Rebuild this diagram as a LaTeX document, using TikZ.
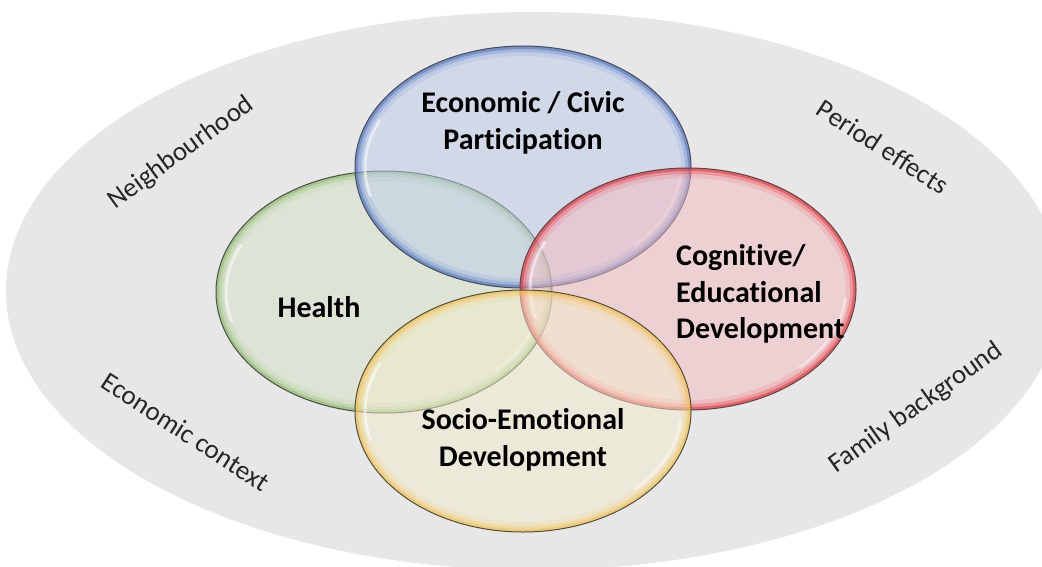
\documentclass[tikz,border=0pt]{standalone}
\usepackage{fontspec}
\setmainfont{Carlito}[Ligatures=NoCommon]
\definecolor{bggrey}{RGB}{231,231,231}
\definecolor{bluefill}{RGB}{189,205,235}
\definecolor{greenfill}{RGB}{213,226,199}
\definecolor{redfill}{RGB}{243,187,191}
\definecolor{yellowfill}{RGB}{243,236,205}
\definecolor{bluerim}{RGB}{60,100,190}
\definecolor{greenrim}{RGB}{130,180,90}
\definecolor{redrim}{RGB}{235,25,35}
\definecolor{yellowrim}{RGB}{245,185,50}
\tikzset{
  venntext/.style={font=\bfseries\fontsize{30}{36.5}\selectfont, align=center, text=black, inner sep=0pt},
  ctxtext/.style={font=\fontsize{27}{30}\selectfont, text=black!85, inner sep=0pt},
  ellrad/.style={x radius=168, y radius=121}
}
\newcommand\glossyell[4]{%
  \fill[#3, fill opacity=0.5] (#1,#2) ellipse [ellrad];
  \begin{scope}
    \clip (#1,#2) ellipse [ellrad];
    \draw[#4, line width=20, opacity=0.10] (#1,#2) ellipse [ellrad];
    \draw[#4, line width=12, opacity=0.22] (#1,#2) ellipse [ellrad];
    \draw[#4, line width=6, opacity=0.45] (#1,#2) ellipse [ellrad];
    \draw[white, line width=3, opacity=0.55, line cap=round]
      ([shift={(#1,#2)}]165:158 and 111) arc[start angle=165, end angle=205, x radius=158, y radius=111];
    \draw[white, line width=3, opacity=0.45, line cap=round]
      ([shift={(#1,#2)}]5:158 and 111) arc[start angle=5, end angle=45, x radius=158, y radius=111];
  \end{scope}
  \draw[black!70, line width=1] (#1,#2) ellipse [ellrad];
}
\begin{document}
\begin{tikzpicture}[x=1pt,y=-1pt]
  \useasboundingbox (0,0) rectangle (1042,566);
  \clip (0,0) rectangle (1042,566);
  \fill[white] (0,0) rectangle (1042,566);
  \fill[bggrey] (534,291) ellipse [x radius=528, y radius=279];

  \glossyell{384}{292}{greenfill}{greenrim}
  \glossyell{523}{167}{bluefill}{bluerim}
  \glossyell{688}{289}{redfill}{redrim}
  \glossyell{523}{411}{yellowfill}{yellowrim}

  \node[venntext] (econ) at (523,123) {Economic / Civic\\Participation};
  \node[venntext] (health) at (319,307) {Health};
  \node[venntext, align=left, anchor=west] (cog) at (676,294) {Cognitive/\\Educational\\Development};
  \node[venntext] (socio) at (523,440) {Socio-Emotional\\Development};

  \node[ctxtext, rotate=36] (neigh) at (181,153) {Neighbourhood};
  \node[ctxtext, rotate=-33] (period) at (883,147) {Period effects};
  \node[ctxtext, rotate=-33] (econctx) at (186,432) {Economic context};
  \node[ctxtext, rotate=35.5] (family) at (916,408) {Family background};
\end{tikzpicture}
\end{document}
